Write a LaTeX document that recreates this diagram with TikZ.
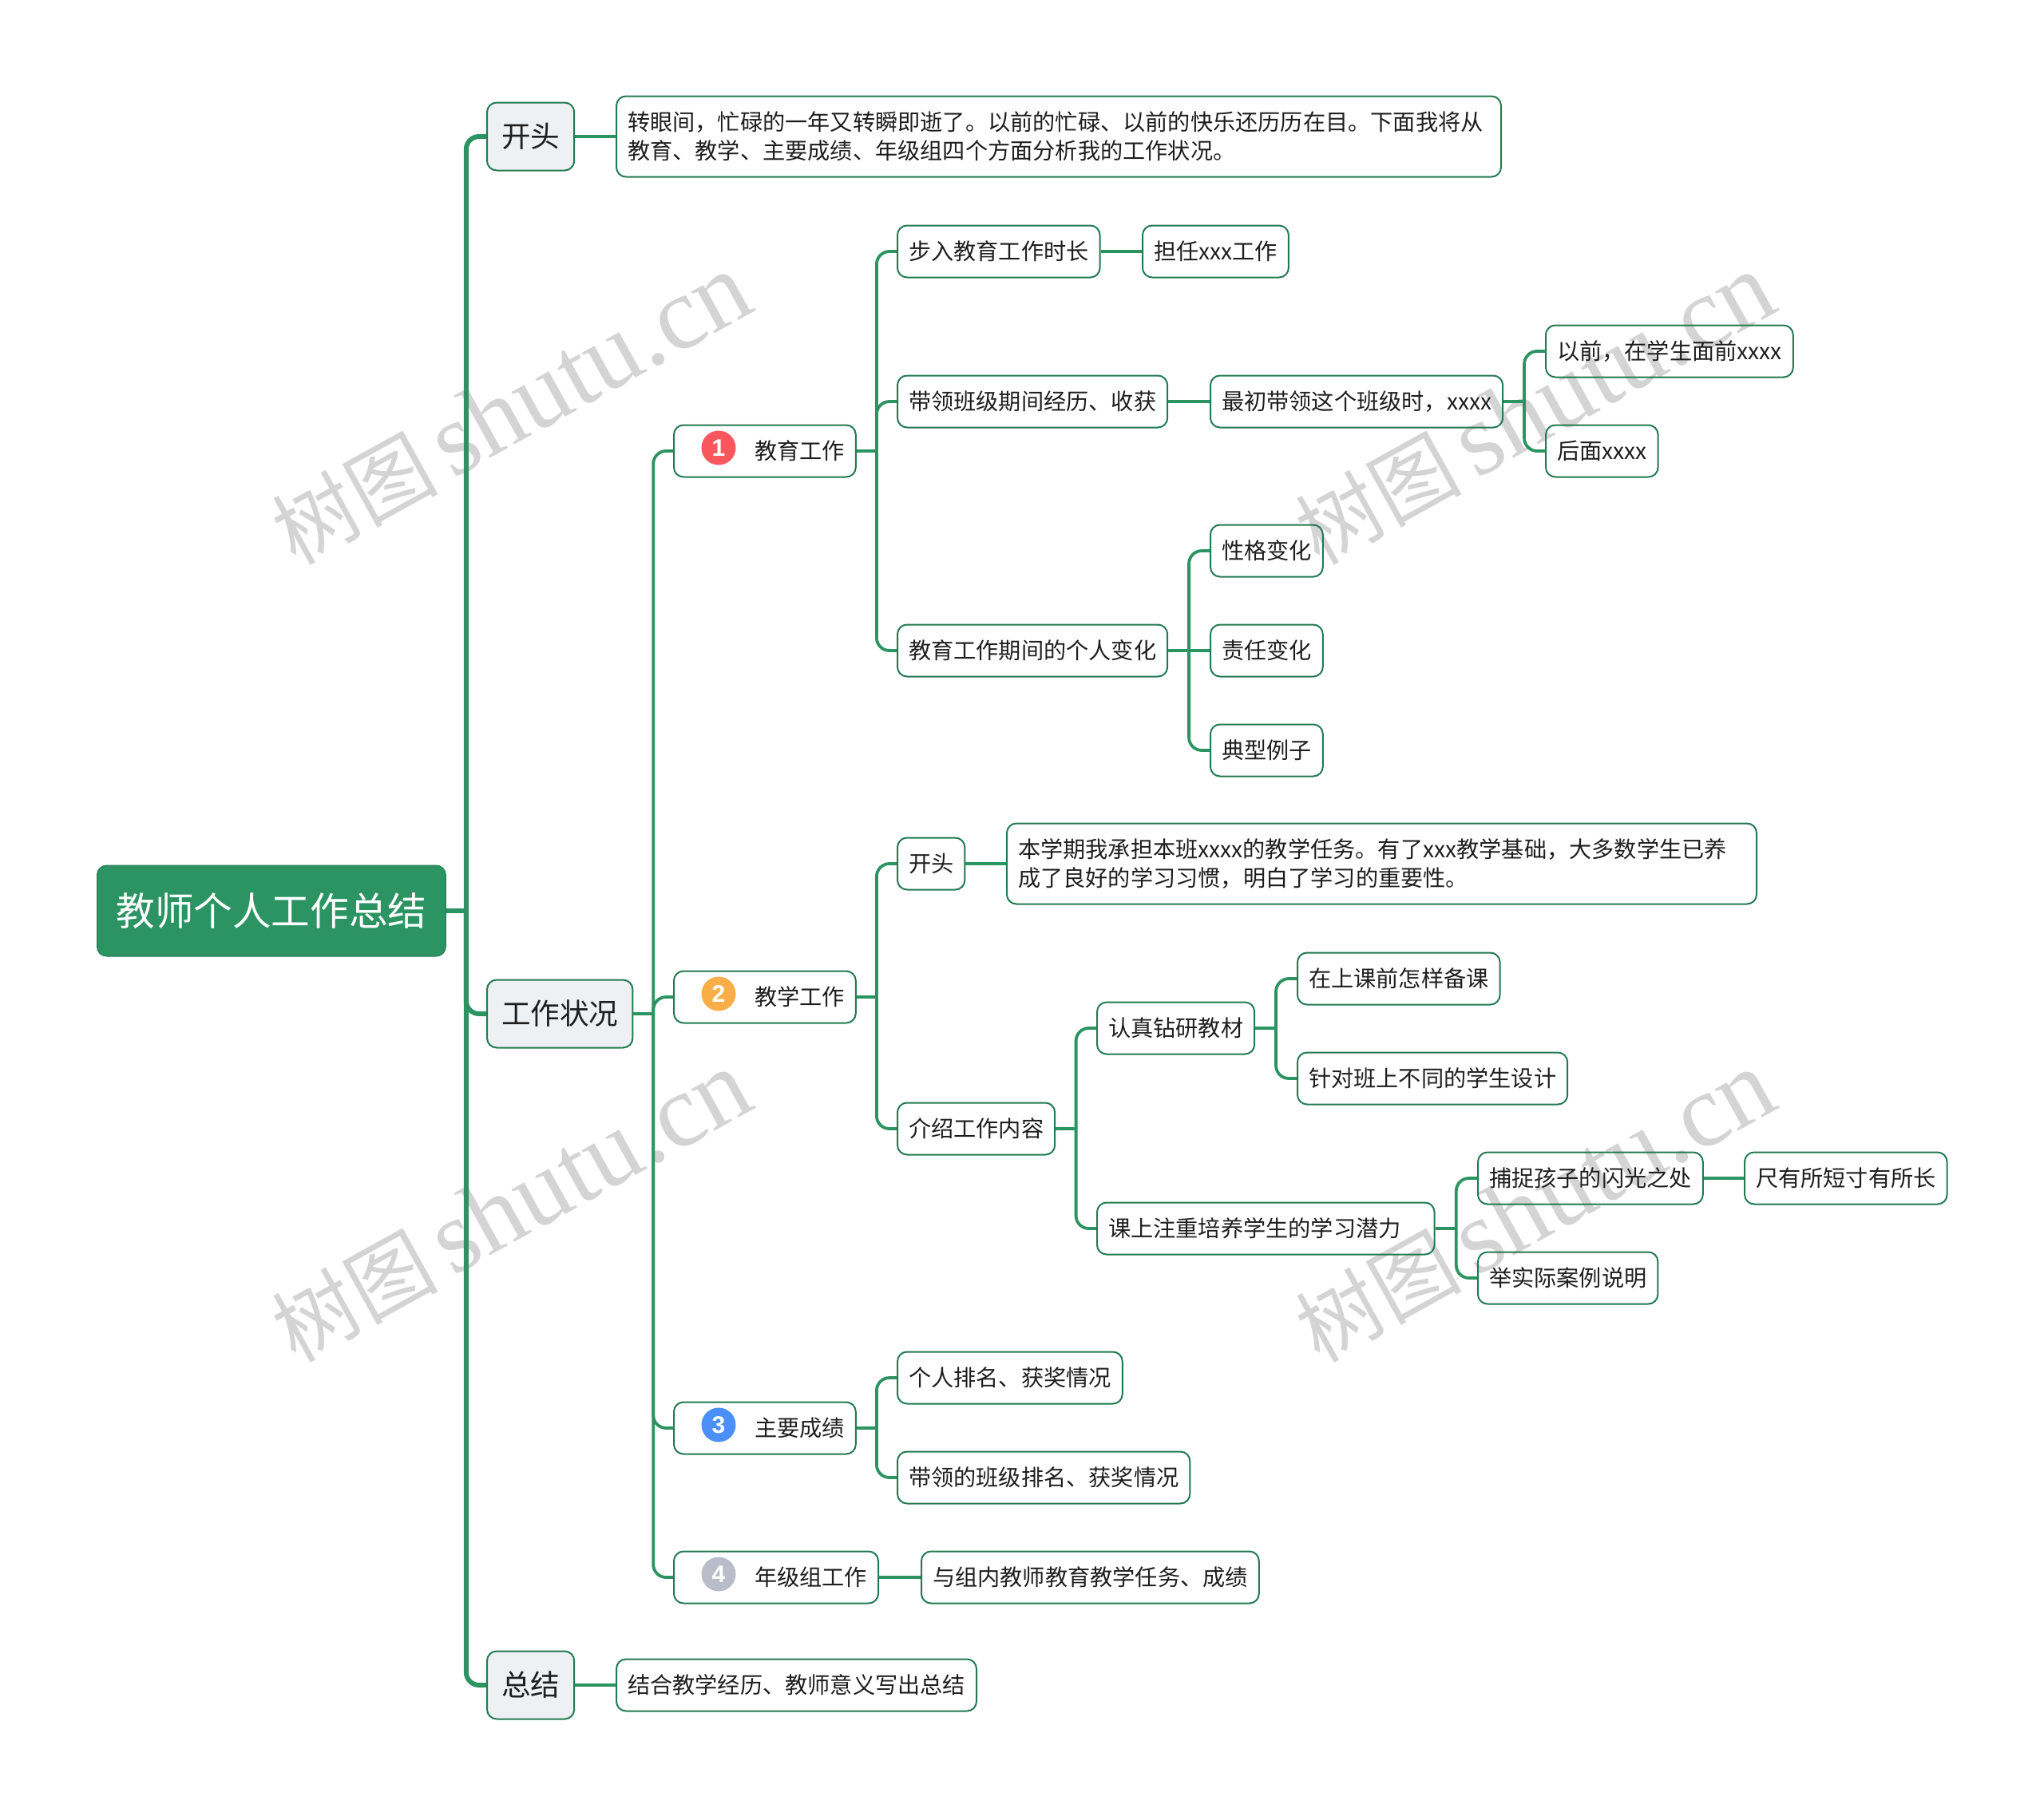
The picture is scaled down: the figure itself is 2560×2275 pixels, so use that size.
\documentclass[tikz,border=0pt]{standalone}
\usepackage{fontspec}
\setmainfont{Noto Sans CJK SC}
\newfontfamily\markfont{Liberation Serif}
\newfontfamily\digitfont{Liberation Sans}
\usepackage{tikz}
\usetikzlibrary{calc}
\usepackage{xcolor}
\definecolor{TreeGreen}{HTML}{2C9463}
\definecolor{TreeEdge}{HTML}{237A52}
\definecolor{TopicGrey}{HTML}{EEF1F4}
\definecolor{InkBlack}{HTML}{1E1E1E}
\definecolor{MarkGrey}{HTML}{D4D4D4}
\definecolor{BadgeRed}{HTML}{F9575D}
\definecolor{BadgeOrange}{HTML}{F9AE48}
\definecolor{BadgeBlue}{HTML}{4A90F8}
\definecolor{BadgeGrey}{HTML}{B9BDC9}
\tikzset{
    % Node styles
    rootbox/.style={
        rectangle,
        rounded corners=6pt,
        draw=TreeEdge,
        fill=TreeGreen,
        text=white,
        anchor=west,
        line width=0.5pt,
        minimum height=57pt,
        inner xsep=12pt,
        font=\fontsize{24.3}{28}\selectfont
    },
    topicbox/.style={
        rectangle,
        rounded corners=6pt,
        draw=TreeEdge,
        fill=TopicGrey,
        text=InkBlack,
        anchor=west,
        line width=1pt,
        minimum height=42.5pt,
        inner xsep=9pt,
        font=\fontsize{18.3}{22}\selectfont
    },
    leafbox/.style={
        rectangle,
        rounded corners=6pt,
        draw=TreeEdge,
        text=InkBlack,
        anchor=west,
        align=left,
        line width=1pt,
        minimum height=32.5pt,
        inner xsep=7pt,
        font=\fontsize{14.1}{18.3}\selectfont
    },
    badge/.style={
        circle,
        inner sep=0pt,
        minimum size=21.5pt,
        text=white,
        font=\digitfont\bfseries\fontsize{15}{15}\selectfont
    },
    watermark/.style={
        rotate=29,
        text=MarkGrey,
        font=\fontsize{52}{60}\selectfont
    },
    % Connector styles
    mainlink/.style={TreeGreen, line width=3pt},
    sublink/.style={TreeGreen, line width=1.9pt}
}
% Node text with room for a badge on its left
\newcommand{\badged}[1]{\hspace*{43.5pt}#1}
% Watermark text
\newcommand{\marktext}{树图\,{\markfont\fontsize{65}{60}\selectfont shutu.cn}}
\begin{document}
\begin{tikzpicture}[x=0.5pt,y=-0.5pt]
    \useasboundingbox (0,0) rectangle (2560,2275);

    % Watermarks
    \node[watermark] (markA) at (640,513) {\marktext};
    \node[watermark] (markB) at (1922,513) {\marktext};
    \node[watermark] (markC) at (640,1512) {\marktext};
    \node[watermark] (markD) at (1922,1512) {\marktext};

    % Root and main branches
    \node[rootbox] (root) at (121,1141) {教师个人工作总结};
    \node[topicbox] (open) at (609,171) {开头};
    \node[topicbox] (work) at (609,1270) {工作状况};
    \node[topicbox] (sum) at (609,2111) {总结};
    \node[leafbox,minimum height=50.5pt,text width=540pt] (opentext) at (771,171) {转眼间，忙碌的一年又转瞬即逝了。以前的忙碌、以前的快乐还历历在目。下面我将从\\教育、教学、主要成绩、年级组四个方面分析我的工作状况。};
    \node[leafbox] (sumtext) at (771,2111) {结合教学经历、教师意义写出总结};

    % Four work areas
    \node[leafbox] (edu) at (843,565) {\badged{教育工作}};
    \node[leafbox] (teach) at (843,1249) {\badged{教学工作}};
    \node[leafbox] (result) at (843,1789) {\badged{主要成绩}};
    \node[leafbox] (grade) at (843,1976) {\badged{年级组工作}};
    \node[badge,fill=BadgeRed] (badgeA) at ([xshift=28.5pt,yshift=2pt]edu.west) {1};
    \node[badge,fill=BadgeOrange] (badgeB) at ([xshift=28.5pt,yshift=2pt]teach.west) {2};
    \node[badge,fill=BadgeBlue] (badgeC) at ([xshift=28.5pt,yshift=2pt]result.west) {3};
    \node[badge,fill=BadgeGrey] (badgeD) at ([xshift=28.5pt,yshift=2pt]grade.west) {4};

    % Education work
    \node[leafbox] (years) at (1123,315) {步入教育工作时长};
    \node[leafbox] (post) at (1430,315) {担任xxx工作};
    \node[leafbox] (lead) at (1123,503) {带领班级期间经历、收获};
    \node[leafbox] (first) at (1515,503) {最初带领这个班级时，xxxx};
    \node[leafbox] (before) at (1935,440) {以前，在学生面前xxxx};
    \node[leafbox] (after) at (1935,565) {后面xxxx};
    \node[leafbox] (change) at (1123,815) {教育工作期间的个人变化};
    \node[leafbox] (nature) at (1515,690) {性格变化};
    \node[leafbox] (duty) at (1515,815) {责任变化};
    \node[leafbox] (case) at (1515,940) {典型例子};

    % Teaching work
    \node[leafbox] (intro) at (1123,1082) {开头};
    \node[leafbox,minimum height=50.5pt,text width=455.5pt] (introtext) at (1260,1082) {本学期我承担本班xxxx的教学任务。有了xxx教学基础，大多数学生已养\\成了良好的学习习惯，明白了学习的重要性。};
    \node[leafbox] (content) at (1123,1414) {介绍工作内容};
    \node[leafbox] (study) at (1373,1288) {认真钻研教材};
    \node[leafbox] (prepare) at (1624,1226) {在上课前怎样备课};
    \node[leafbox] (design) at (1624,1351) {针对班上不同的学生设计};
    \node[leafbox] (train) at (1373,1539) {课上注重培养学生的学习潜力\hspace*{14pt}};
    \node[leafbox] (catch) at (1850,1476) {捕捉孩子的闪光之处};
    \node[leafbox] (merit) at (2184,1476) {尺有所短寸有所长};
    \node[leafbox] (example) at (1850,1601) {举实际案例说明};

    % Results and grade work
    \node[leafbox] (rank) at (1123,1726) {个人排名、获奖情况};
    \node[leafbox] (classrank) at (1123,1851) {带领的班级排名、获奖情况};
    \node[leafbox] (group) at (1153,1976) {与组内教师教育教学任务、成绩};

    % Elbow connectors
    \foreach \from/\to in {root/open,root/work,root/sum}{
        \coordinate (mid) at ($(\from.east)!0.5!(\from.east -| \to.west)$);
        \draw[mainlink] (\from.east) -- (mid);
        \draw[mainlink,rounded corners=8pt] (mid) |- (\to.west);
    }
    \foreach \from/\to in {work/edu,work/teach,work/result,work/grade,
        edu/years,edu/lead,edu/change,first/before,first/after,
        change/nature,change/case,teach/intro,teach/content,
        content/study,content/train,study/prepare,study/design,
        train/catch,train/example,result/rank,result/classrank}{
        \coordinate (mid) at ($(\from.east)!0.5!(\from.east -| \to.west)$);
        \draw[sublink] (\from.east) -- (mid);
        \draw[sublink,rounded corners=8pt] (mid) |- (\to.west);
    }

    % Straight connectors
    \foreach \from/\to in {open/opentext,sum/sumtext,years/post,lead/first,
        change/duty,intro/introtext,catch/merit,grade/group}{
        \draw[sublink] (\from.east) -- (\to.west);
    }
\end{tikzpicture}
\end{document}
